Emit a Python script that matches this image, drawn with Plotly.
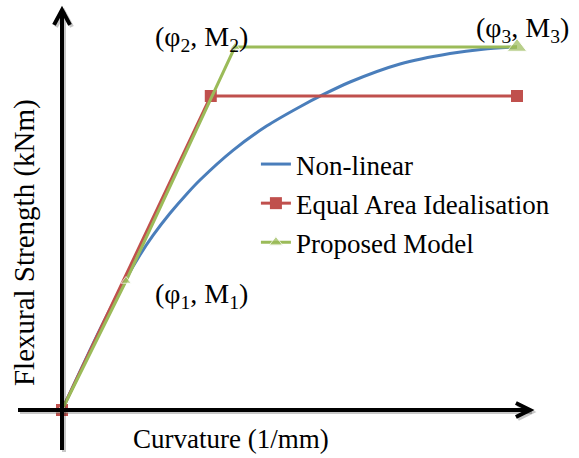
import plotly.graph_objects as go

# Moment-curvature curves (normalised: phi3 = 1, M3 = 1)
nl_curv = [0.0, 0.0835, 0.1407, 0.1714, 0.2000, 0.2374, 0.2747, 0.3033, 0.3758,
           0.4505, 0.5231, 0.5736, 0.6330, 0.7429, 0.8527, 0.9253, 1.0]
nl_moment = [0.0, 0.2220, 0.3617, 0.4273, 0.4810, 0.5419, 0.5959, 0.6336, 0.7154,
             0.7829, 0.8355, 0.8686, 0.9036, 0.9532, 0.9820, 0.9940, 1.0]

ea_curv = [0.0, 0.327, 1.0]
ea_moment = [0.0, 0.865, 0.865]

pm_curv = [0.0, 0.1407, 0.380, 1.0]
pm_moment = [0.0, 0.3554, 1.0, 1.0]

series_names = ["Non-linear", "Equal Area Idealisation", "Proposed Model"]
point_labels = ["(φ<sub>1</sub>, M<sub>1</sub>)", "(φ<sub>2</sub>, M<sub>2</sub>)",
                "(φ<sub>3</sub>, M<sub>3</sub>)"]
x_title = "Curvature (1/mm)"
y_title = "Flexural Strength (kNm)"

BLUE = "#4a7ebb"
RED = "#c0504d"
GREEN = "#9bbb59"
FONT = "'Liberation Serif', 'Times New Roman', Times, serif"

fig = go.Figure()
fig.add_trace(go.Scatter(x=nl_curv, y=nl_moment, mode="lines", name=series_names[0],
                         line=dict(color=BLUE, width=3, shape="spline", smoothing=0.8),
                         legendgroup="a"))
fig.add_trace(go.Scatter(x=ea_curv, y=ea_moment, mode="lines+markers", name=series_names[1],
                         line=dict(color=RED, width=3),
                         marker=dict(symbol="square", size=12, color=RED),
                         legendgroup="b"))
fig.add_trace(go.Scatter(x=pm_curv, y=pm_moment, mode="lines+markers", name=series_names[2],
                         line=dict(color=GREEN, width=3),
                         marker=dict(symbol="triangle-up", size=[11, 9, 9, 17], color=GREEN),
                         legendgroup="c"))

# Axis lines with open arrowheads, plus a soft drop shadow
x_lo, x_hi = -0.0967, 1.0286
y_lo, y_hi = -0.110, 1.102
dx, dy = 2 / 455, 2 / 363
shapes = []
for off, col in [((dx, -dy), "rgba(0,0,0,0.22)"), ((0, 0), "black")]:
    ox, oy = off
    shapes.append(dict(type="line", xref="x", yref="y", x0=x_lo + ox, x1=x_hi + ox,
                       y0=oy, y1=oy, line=dict(color=col, width=4)))
    shapes.append(dict(type="line", xref="x", yref="y", x0=ox, x1=ox,
                       y0=y_lo + oy, y1=y_hi + oy, line=dict(color=col, width=4)))
    shapes.append(dict(type="path", xref="x", yref="y",
                       path=f"M {x_hi - 0.031 + ox},{0.0193 + oy} L {x_hi + ox},{oy} "
                            f"L {x_hi - 0.031 + ox},{-0.0193 + oy}",
                       line=dict(color=col, width=4)))
    shapes.append(dict(type="path", xref="x", yref="y",
                       path=f"M {-0.0176 + ox},{y_hi - 0.041 + oy} L {ox},{y_hi + oy} "
                            f"L {0.0176 + ox},{y_hi - 0.041 + oy}",
                       line=dict(color=col, width=4)))

annotations = [
    dict(x=0.3055, y=0.3168, text=point_labels[0], size=28),
    dict(x=0.3055, y=1.0248, text=point_labels[1], size=28),
    dict(x=1.011, y=1.0496, text=point_labels[2], size=28),
    dict(x=0.3714, y=-0.0799, text=x_title, size=27),
    dict(x=-0.0835, y=0.46, text=y_title, textangle=-90, size=29),
]
for a in annotations:
    sz = a.pop("size")
    a.update(xref="x", yref="y", showarrow=False,
             font=dict(family=FONT, size=sz, color="black"))

fig.update_layout(
    width=579, height=458,
    margin=dict(l=0, r=0, t=0, b=0),
    paper_bgcolor="white", plot_bgcolor="white",
    xaxis=dict(range=[-0.13626, 1.13626], visible=False, fixedrange=True),
    yaxis=dict(range=[-0.13223, 1.12948], visible=False, fixedrange=True),
    shapes=shapes,
    annotations=annotations,
    showlegend=True,
    legend=dict(x=0.442, y=1 - 140 / 458, xanchor="left", yanchor="top",
                font=dict(family=FONT, size=27, color="black"),
                bgcolor="rgba(0,0,0,0)", tracegroupgap=1, itemwidth=30),
)

fig.write_html("out.html")
